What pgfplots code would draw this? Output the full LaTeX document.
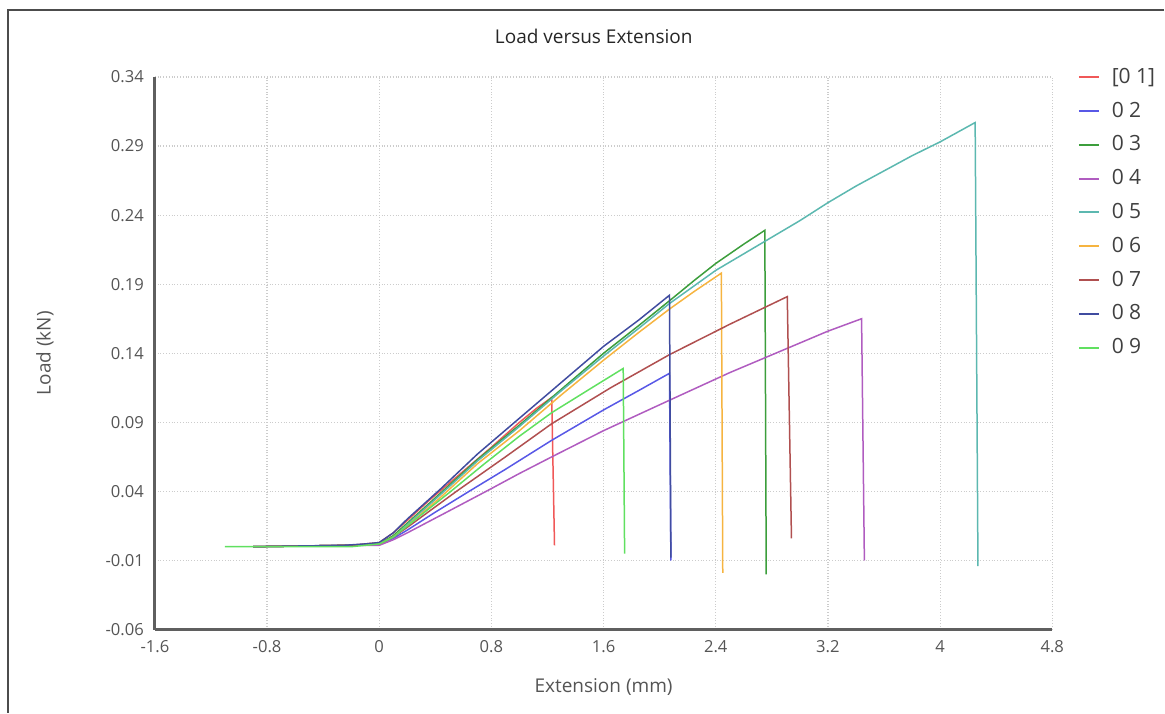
\documentclass[border=0pt]{standalone}
\usepackage{fontspec}
\setmainfont{Open Sans}
\usepackage{pgfplots}
\pgfplotsset{compat=1.18}

\definecolor{c01}{RGB}{240,88,88}
\definecolor{c02}{RGB}{88,88,230}
\definecolor{c03}{RGB}{60,158,60}
\definecolor{c04}{RGB}{176,92,192}
\definecolor{c05}{RGB}{92,184,176}
\definecolor{c06}{RGB}{246,180,64}
\definecolor{c07}{RGB}{176,80,80}
\definecolor{c08}{RGB}{64,76,160}
\definecolor{c09}{RGB}{96,224,96}
\definecolor{txt}{RGB}{85,85,85}
\definecolor{axln}{RGB}{95,95,95}

\begin{document}
\begin{tikzpicture}
\begin{axis}[
  at={(0,0)}, anchor=south west,
  scale only axis,
  width=449pt, height=276.5pt,
  xmin=-1.6, xmax=4.8, ymin=-0.06, ymax=0.34,
  axis x line*=bottom, axis y line*=left,
  axis line style={axln, line width=1.5pt, -},
  xtick={-1.6,-0.8,0,0.8,1.6,2.4,3.2,4,4.8},
  xticklabels={-1.6,-0.8,0,0.8,1.6,2.4,3.2,4,4.8},
  ytick={-0.06,-0.01,0.04,0.09,0.14,0.19,0.24,0.29,0.34},
  yticklabels={-0.06,-0.01,0.04,0.09,0.14,0.19,0.24,0.29,0.34},
  major tick length=0pt,
  tick label style={font=\fontsize{8.3}{10}\selectfont, text=txt},
  xticklabel style={yshift=-2pt},
  yticklabel style={xshift=-2pt},
  grid=major,
  major grid style={densely dotted, gray!40, line width=0.6pt},
  title={Load versus Extension},
  title style={font=\fontsize{9.5}{11}\selectfont, text=black!85, at={(axis description cs:0.489,1.0525)}, anchor=center},
  xlabel={Extension (mm)},
  xlabel style={font=\fontsize{9.5}{11}\selectfont, text=txt, at={(axis description cs:0.5,-0.104)}, anchor=center},
  ylabel={Load (kN)},
  ylabel style={font=\fontsize{9.5}{11}\selectfont, text=txt, at={(axis description cs:-0.1225,0.5)}, anchor=center},
  legend style={draw=none, fill=none, at={(axis description cs:1.028,1.024)}, anchor=north west,
    font=\fontsize{10.5}{12}\selectfont, text=black!75, row sep=3.8pt, column sep=4pt, inner sep=0pt},
  legend cell align=left,
  legend image code/.code={\draw[#1, line width=1pt] (0pt,0pt) -- (10pt,0pt);},
  every axis plot/.append style={line width=0.75pt, mark=none, sharp plot},
  clip=false,
]
% [0 1]
\addplot[c01] coordinates {(-0.9,0) (-0.2,0.001) (0,0.003) (0.1,0.010) (0.2,0.019) (0.35,0.033) (0.5,0.046) (0.65,0.059) (0.8,0.072) (1.0,0.090) (1.12,0.100) (1.23,0.108) (1.25,0.001)};
\addlegendentry{\relax[0 1]}
% 0 2
\addplot[c02] coordinates {(-0.9,0) (-0.2,0.001) (0,0.002) (0.1,0.006) (0.2,0.012) (0.4,0.025) (0.64,0.040) (0.9,0.056) (1.23,0.077) (1.6,0.099) (1.85,0.113) (2.07,0.1255) (2.08,-0.010)};
\addlegendentry{0 2}
% 0 3
\addplot[c03] coordinates {(-0.9,0) (-0.2,0.001) (0,0.002) (0.1,0.008) (0.2,0.017) (0.44,0.039) (0.7,0.063) (1.0,0.088) (1.3,0.114) (1.6,0.140) (1.85,0.160) (2.07,0.178) (2.25,0.193) (2.4,0.205) (2.6,0.219) (2.75,0.229) (2.76,-0.020)};
\addlegendentry{0 3}
% 0 4
\addplot[c04] coordinates {(-0.9,0) (-0.2,0.001) (0,0.001) (0.1,0.005) (0.2,0.010) (0.35,0.018) (0.5,0.026) (0.78,0.041) (1.0,0.053) (1.23,0.065) (1.6,0.084) (2.07,0.106) (2.5,0.126) (2.92,0.144) (3.2,0.156) (3.44,0.165) (3.46,-0.010)};
\addlegendentry{0 4}
% 0 5
\addplot[c05] coordinates {(-0.9,0) (-0.2,0.001) (0,0.002) (0.1,0.007) (0.2,0.016) (0.44,0.038) (0.7,0.062) (1.0,0.087) (1.3,0.113) (1.6,0.138) (1.85,0.158) (2.07,0.176) (2.4,0.200) (2.75,0.221) (3.0,0.236) (3.2,0.249) (3.4,0.261) (3.6,0.272) (3.8,0.283) (4.0,0.293) (4.25,0.307) (4.27,-0.014)};
\addlegendentry{0 5}
% 0 6
\addplot[c06] coordinates {(-0.9,0) (-0.2,0.001) (0,0.002) (0.1,0.007) (0.2,0.015) (0.44,0.036) (0.7,0.060) (1.0,0.084) (1.3,0.110) (1.6,0.135) (1.85,0.155) (2.07,0.172) (2.25,0.185) (2.44,0.198) (2.45,-0.019)};
\addlegendentry{0 6}
% 0 7
\addplot[c07] coordinates {(-0.9,0) (-0.2,0.001) (0,0.002) (0.1,0.007) (0.2,0.014) (0.55,0.040) (0.9,0.065) (1.23,0.089) (1.65,0.115) (2.07,0.139) (2.5,0.161) (2.91,0.181) (2.94,0.006)};
\addlegendentry{0 7}
% 0 8
\addplot[c08] coordinates {(-0.9,0) (-0.25,0.001) (-0.1,0.002) (0,0.003) (0.1,0.010) (0.2,0.020) (0.44,0.042) (0.7,0.067) (1.0,0.093) (1.3,0.119) (1.6,0.145) (1.85,0.164) (2.07,0.182) (2.08,-0.008)};
\addlegendentry{0 8}
% 0 9
\addplot[c09] coordinates {(-1.1,0) (-0.2,0) (0,0.002) (0.1,0.007) (0.2,0.015) (0.51,0.040) (0.75,0.060) (1.0,0.080) (1.23,0.097) (1.5,0.114) (1.74,0.129) (1.75,-0.005)};
\addlegendentry{0 9}
\end{axis}
\draw[black!70, line width=0.8pt] (-73.5pt,-41.5pt) -- (-73.5pt,310pt) -- (505pt,310pt);
\path[use as bounding box] (-77.5pt,-41.5pt) rectangle (505pt,315pt);
\end{tikzpicture}
\end{document}
